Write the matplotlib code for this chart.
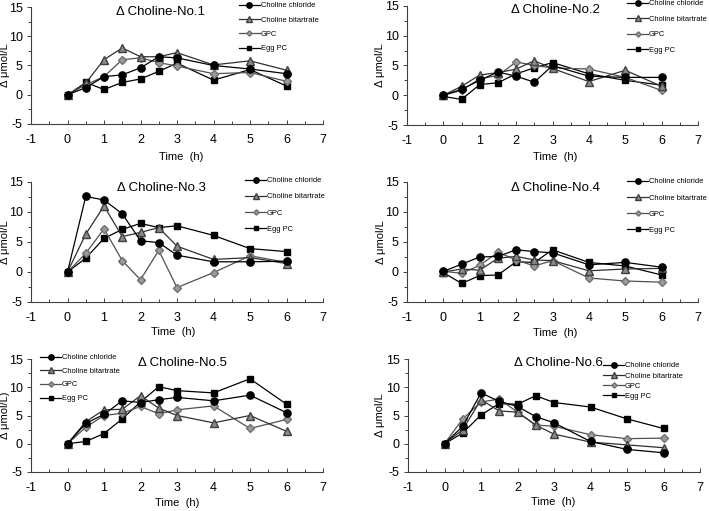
import matplotlib
matplotlib.use("Agg")
import matplotlib.pyplot as plt
from matplotlib.ticker import MultipleLocator, FuncFormatter

plt.rcParams['font.family'] = ['Liberation Sans', 'DejaVu Sans']

time = [0, 0.5, 1, 1.5, 2, 2.5, 3, 4, 5, 6]
series_names = ["Choline chloride", "Choline bitartrate", "GPC", "Egg PC"]
titles = ["\u0394 Choline-No.1", "\u0394 Choline-No.2", "\u0394 Choline-No.3",
          "\u0394 Choline-No.4", "\u0394 Choline-No.5", "\u0394 Choline-No.6"]
ylabels = ["\u0394 \u03bcmol/L", "\u0394 \u03bcmol/L", "\u0394 \u03bcmol/L",
           "\u0394 \u03bcmol/L", "\u0394 \u03bcmol/L)", "\u0394 \u03bcmol/L"]

# Panel 1
p1_chloride = [0, 1.2, 3.1, 3.4, 4.6, 6.5, 6.3, 5.0, 4.4, 3.6]
p1_bitartrate = [0, 2.0, 6.0, 8.0, 6.5, 6.5, 7.2, 5.1, 5.8, 4.2]
p1_gpc = [0, 1.7, 3.1, 6.0, 6.3, 5.5, 4.9, 3.6, 3.8, 2.3]
p1_eggpc = [-0.1, 2.1, 0.9, 2.1, 2.7, 4.0, 5.4, 2.5, 4.3, 1.5]
# Panel 2
p2_chloride = [0, 1.0, 2.5, 3.9, 3.2, 2.2, 5.0, 3.2, 3.0, 3.0]
p2_bitartrate = [0, 1.5, 3.4, 3.8, 4.4, 5.8, 4.5, 2.3, 4.2, 1.5]
p2_gpc = [0, 0.8, 2.8, 3.3, 5.6, 5.0, 4.6, 4.4, 3.0, 0.8]
p2_eggpc = [-0.2, -0.7, 1.8, 2.1, 3.6, 4.6, 5.5, 3.6, 2.5, 1.7]
# Panel 3
p3_chloride = [0, 12.6, 12.0, 9.7, 5.2, 4.9, 2.8, 1.7, 1.7, 1.8]
p3_bitartrate = [0, 6.3, 11.0, 5.9, 6.6, 7.4, 4.3, 2.1, 2.4, 1.4]
p3_gpc = [0, 3.1, 7.2, 1.9, -1.3, 3.6, -2.6, -0.1, 2.7, 1.6]
p3_eggpc = [0, 2.3, 5.6, 7.1, 8.1, 7.4, 7.7, 6.1, 3.9, 3.4]
# Panel 4
p4_chloride = [0.1, 1.3, 2.5, 2.6, 3.7, 3.4, 3.2, 1.2, 1.6, 0.8]
p4_bitartrate = [0, 0.5, 0.3, 2.3, 2.6, 2.0, 1.9, 0.2, 0.5, 0.6]
p4_gpc = [0.1, -0.2, 1.1, 3.3, 2.0, 1.0, 1.9, -1.0, -1.5, -1.7]
p4_eggpc = [-0.1, -1.9, -0.6, -0.5, 1.7, 1.6, 3.7, 1.6, 1.0, -0.5]
# Panel 5
p5_chloride = [0, 3.6, 5.2, 7.6, 7.3, 7.8, 8.2, 7.6, 8.6, 5.5]
p5_bitartrate = [0, 3.9, 6.0, 6.1, 8.5, 6.3, 5.0, 3.7, 5.0, 2.2]
p5_gpc = [0, 2.9, 5.0, 5.4, 6.6, 5.3, 6.0, 6.7, 2.7, 4.3]
p5_eggpc = [0, 0.4, 1.8, 4.4, 7.4, 10.1, 9.4, 9.0, 11.5, 7.0]
# Panel 6
p6_chloride = [0, 3.1, 9.0, 7.5, 6.6, 4.8, 3.7, 0.4, -1.0, -1.6]
p6_bitartrate = [0, 2.5, 7.8, 5.8, 5.6, 3.3, 1.7, 0.3, -0.2, -0.7]
p6_gpc = [0, 4.4, 7.4, 7.9, 5.6, 3.3, 3.1, 1.6, 0.9, 1.0]
p6_eggpc = [0, 1.9, 5.1, 7.1, 7.0, 8.5, 7.3, 6.5, 4.4, 2.7]

panels = [
    [p1_chloride, p1_bitartrate, p1_gpc, p1_eggpc],
    [p2_chloride, p2_bitartrate, p2_gpc, p2_eggpc],
    [p3_chloride, p3_bitartrate, p3_gpc, p3_eggpc],
    [p4_chloride, p4_bitartrate, p4_gpc, p4_eggpc],
    [p5_chloride, p5_bitartrate, p5_gpc, p5_eggpc],
    [p6_chloride, p6_bitartrate, p6_gpc, p6_eggpc],
]

W, H = 709, 511
fig = plt.figure(figsize=(W / 100, H / 100), dpi=100)

# axes boxes in pixels: left, right, top, bottom
boxes = [(31, 323, 7, 124), (407, 698, 6, 125),
         (31, 323, 182, 302), (407, 698, 182, 302),
         (31, 323, 359, 472), (408, 700, 359, 472)]
title_pos = [(160, 12), (555, 10), (161, 188), (555, 188), (182, 363), (558, 363)]
ylabel_x = [10, 385, 10, 386, 10, 385]
xlabel_pos = [(181, 157), (555, 157), (173, 332), (555, 333), (177, 503), (553, 502)]
legend_pos = [(239, 2, 0.95), (627, 0, 1.1), (245, 177, 1.2),
              (627, 178, 1.2), (40, 354, 0.85), (603, 362, 0.4)]

styles = [
    dict(marker='o', color='black', mfc='black', mec='black', ms=5.2),
    dict(marker='^', color='#303030', mfc='#8a8a8a', mec='#404040', ms=5.5),
    dict(marker='D', color='#505050', mfc='#9a9a9a', mec='#707070', ms=3.6),
    dict(marker='s', color='black', mfc='black', mec='black', ms=4.8),
]

hyphen_fmt = FuncFormatter(lambda v, p: ("%g" % v).replace("\u2212", "-"))

for i in range(6):
    l, r, t, b = boxes[i]
    ax = fig.add_axes([l / W, 1 - b / H, (r - l) / W, (b - t) / H])
    handles = []
    for j, vals in enumerate(panels[i]):
        st = styles[j]
        h, = ax.plot(time, vals, marker=st['marker'], color=st['color'],
                     mfc=st['mfc'], mec=st['mec'], ms=st['ms'], lw=0.9,
                     label=series_names[j], zorder=3 + (3 - j) * 0.1)
        handles.append(h)
    ax.set_xlim(-1, 7)
    ax.set_ylim(-5, 15)
    ax.xaxis.set_major_locator(MultipleLocator(1))
    ax.xaxis.set_minor_locator(MultipleLocator(0.5))
    ax.yaxis.set_major_locator(MultipleLocator(5))
    ax.yaxis.set_minor_locator(MultipleLocator(2.5))
    ax.xaxis.set_major_formatter(hyphen_fmt)
    ax.yaxis.set_major_formatter(hyphen_fmt)
    for s in ['top', 'right']:
        ax.spines[s].set_visible(False)
    for s in ['left', 'bottom']:
        ax.spines[s].set_color('#404040')
        ax.spines[s].set_linewidth(0.8)
    ax.tick_params(axis='x', which='major', direction='in', length=3, width=0.7,
                   color='#404040', labelsize=9, pad=7)
    ax.tick_params(axis='x', which='minor', direction='in', length=2.5, width=0.7,
                   color='#404040')
    ax.tick_params(axis='y', which='major', direction='out', length=3, width=0.7,
                   color='#404040', labelsize=9, pad=3)
    ax.tick_params(axis='y', which='minor', direction='out', length=2, width=0.7,
                   color='#404040')
    xx, xy = xlabel_pos[i]
    fig.text(xx / W, 1 - xy / H, "Time  (h)", fontsize=8, ha='center', va='center')
    ax.set_ylabel(ylabels[i], fontsize=8)
    ax.yaxis.set_label_coords((ylabel_x[i] - l) / (r - l), 0.5)
    tx, ty = title_pos[i]
    fig.text(tx / W, 1 - ty / H, titles[i], fontsize=9.5, ha='center', va='center')
    lx, ly, sp = legend_pos[i]
    ax.legend(handles=handles, loc='upper left', bbox_to_anchor=(lx / W, 1 - ly / H),
              bbox_transform=fig.transFigure, frameon=False, fontsize=5.4,
              handlelength=2.8, handletextpad=0.1, labelspacing=sp,
              borderpad=0, borderaxespad=0, markerscale=0.75)

fig.savefig("out.png", dpi=100)
